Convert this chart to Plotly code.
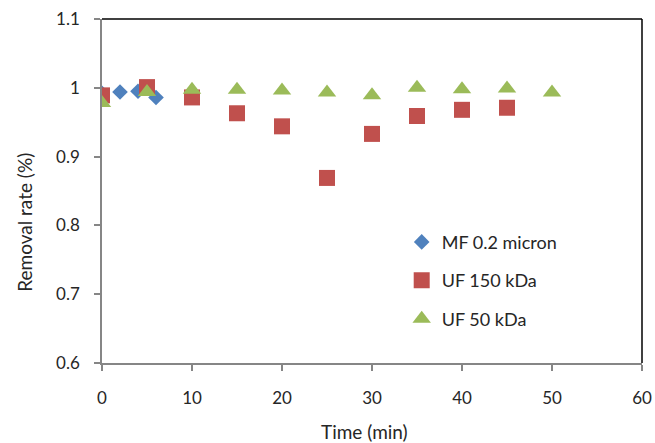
import plotly.graph_objects as go

# Removal rate over filtration time for three membranes
mf_time = [0, 2, 4, 6]
mf_rate = [0.992, 0.994, 0.995, 0.986]

uf150_time = [0, 5, 10, 15, 20, 25, 30, 35, 40, 45]
uf150_rate = [0.989, 1.001, 0.986, 0.963, 0.944, 0.869, 0.933, 0.959, 0.968, 0.971]

uf50_time = [0, 5, 10, 15, 20, 25, 30, 35, 40, 45, 50]
uf50_rate = [0.978, 0.994, 0.997, 0.997, 0.996, 0.993, 0.989, 1.000, 0.998, 0.999, 0.993]

x_ticks = [0, 10, 20, 30, 40, 50, 60]
y_ticks = [0.6, 0.7, 0.8, 0.9, 1.0, 1.1]
y_tick_text = ["0.6", "0.7", "0.8", "0.9", "1", "1.1"]

FONT = "Lato"
TEXT = "#262626"
AXIS = "#868686"

fig = go.Figure()
fig.add_trace(go.Scatter(
    x=mf_time, y=mf_rate, mode="markers", name="MF 0.2 micron",
    legendgroup="a",
    marker=dict(symbol="diamond", size=12, color="#4F81BD"),
))
fig.add_trace(go.Scatter(
    x=uf150_time, y=uf150_rate, mode="markers", name="UF 150 kDa",
    legendgroup="b",
    marker=dict(symbol="square", size=16, color="#C0504D"),
))
fig.add_trace(go.Scatter(
    x=uf50_time, y=uf50_rate, mode="markers", name="UF 50 kDa",
    legendgroup="c",
    marker=dict(symbol="triangle-up", size=16, color="#9BBB59"),
))

# plot-area frame: black top and right edges
fig.add_shape(type="line", xref="x domain", yref="y domain",
              x0=0, x1=1, y0=1, y1=1, line=dict(color="black", width=1.5))
fig.add_shape(type="line", xref="x domain", yref="y domain",
              x0=1, x1=1, y0=0, y1=1, line=dict(color="black", width=1.5))

fig.update_layout(
    width=655, height=443,
    margin=dict(l=102, r=13, t=19, b=80, autoexpand=False),
    paper_bgcolor="white", plot_bgcolor="white",
    font=dict(family=FONT, size=17, color=TEXT),
    showlegend=True,
    legend=dict(
        x=0.555, y=0.405, xanchor="left", yanchor="top",
        bgcolor="rgba(0,0,0,0)", tracegroupgap=12,
        font=dict(family=FONT, size=18, color=TEXT),
        itemwidth=30,
    ),
    xaxis=dict(
        range=[0, 60], tickvals=x_ticks, showgrid=False, zeroline=False,
        automargin=False,
        showline=True, linecolor=AXIS, linewidth=1.5,
        ticks="outside", ticklen=6, tickcolor=AXIS, tickwidth=1.5,
        ticklabelstandoff=13,
        tickfont=dict(family=FONT, size=17, color=TEXT),
    ),
    yaxis=dict(
        range=[0.6, 1.1], tickvals=y_ticks, ticktext=y_tick_text,
        showgrid=False, zeroline=False, automargin=False,
        showline=True, linecolor=AXIS, linewidth=1.5,
        ticks="outside", ticklen=6, tickcolor=AXIS, tickwidth=1.5,
        ticklabelstandoff=11,
        tickfont=dict(family=FONT, size=17, color=TEXT),
    ),
    annotations=[
        dict(text="Time (min)", xref="paper", yref="paper",
             x=0.487, y=-0.2, xanchor="center", yanchor="middle",
             showarrow=False, font=dict(family=FONT, size=19, color=TEXT)),
        dict(text="Removal rate (%)", xref="paper", yref="paper",
             x=-0.143, y=0.41, xanchor="center", yanchor="middle",
             textangle=-90, showarrow=False,
             font=dict(family=FONT, size=19, color=TEXT)),
    ],
)

fig.write_html("out.html")
